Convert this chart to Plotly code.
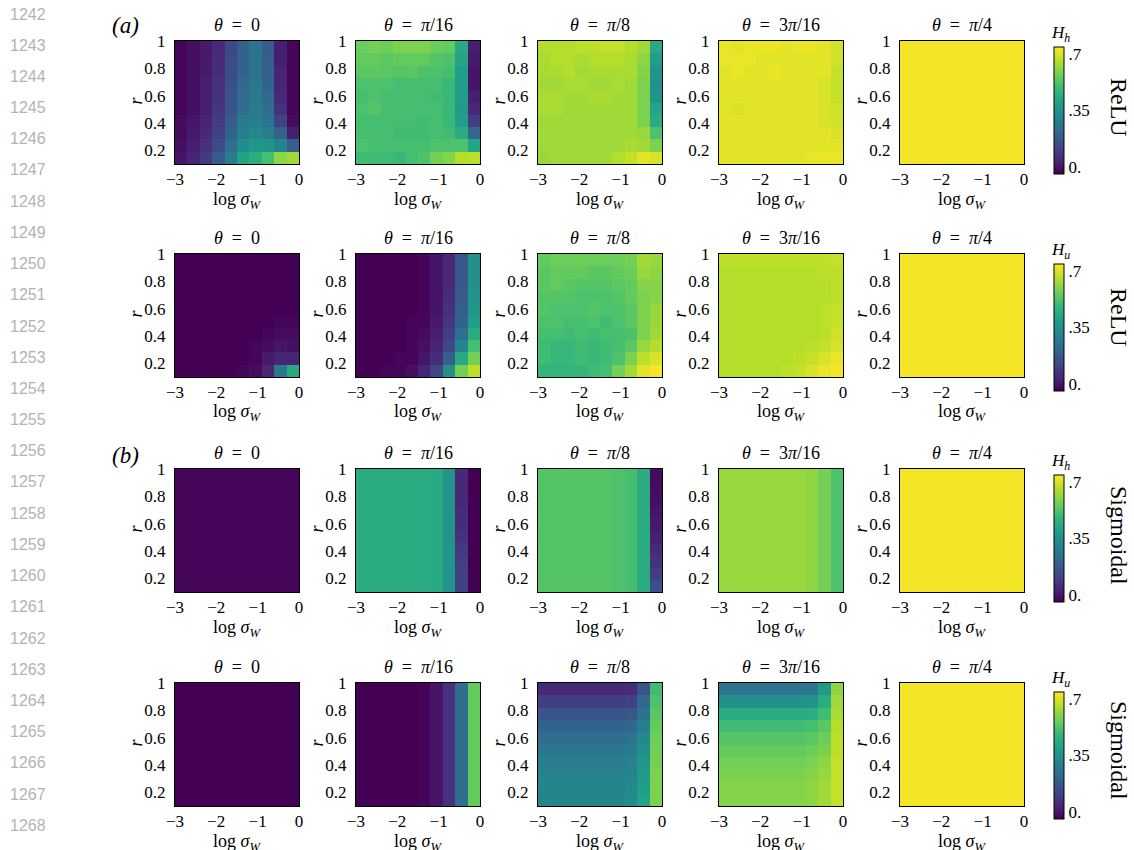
import plotly.graph_objects as go

W, H = 1134, 850
SERIF = "Liberation Serif"

# ---------------- data ----------------
log_sigma_w = [-2.85, -2.55, -2.25, -1.95, -1.65, -1.35, -1.05, -0.75, -0.45, -0.15]
# cell centres of r, listed top (r≈1) to bottom (r≈0.1); matrices below use the same row order
r_vals = [0.955, 0.865, 0.775, 0.685, 0.595, 0.505, 0.415, 0.325, 0.235, 0.145]

x_tickvals = [-3, -2, -1, 0]
x_ticktext = ["−3", "−2", "−1", "0"]
y_tickvals = [0.2, 0.4, 0.6, 0.8, 1.0]
y_ticktext = ["0.2", "0.4", "0.6", "0.8", "1"]
theta_titles = ["<i>θ</i>\u2002=\u20020", "<i>θ</i>\u2002=\u2002<i>π</i>/16", "<i>θ</i>\u2002=\u2002<i>π</i>/8",
                "<i>θ</i>\u2002=\u20023<i>π</i>/16", "<i>θ</i>\u2002=\u2002<i>π</i>/4"]
row_labels = ["ReLU", "ReLU", "Sigmoidal", "Sigmoidal"]
cbar_titles = ["<i>H<sub>h</sub></i>", "<i>H<sub>u</sub></i>", "<i>H<sub>h</sub></i>", "<i>H<sub>u</sub></i>"]
cbar_tickvals = [0.04, 0.35, 0.66]
cbar_ticktext = ["0.", ".35", ".7"]
panel_tags = ["<i>(a)</i>", "<i>(b)</i>"]
line_numbers = list(range(1242, 1269))

relu_hh_0 = [
    [0.01, 0.03, 0.05, 0.08, 0.15, 0.21, 0.27, 0.20, 0.06, 0.01],
    [0.01, 0.03, 0.05, 0.09, 0.16, 0.22, 0.27, 0.21, 0.06, 0.01],
    [0.01, 0.03, 0.05, 0.09, 0.16, 0.22, 0.27, 0.21, 0.07, 0.01],
    [0.01, 0.03, 0.06, 0.10, 0.17, 0.23, 0.28, 0.22, 0.07, 0.01],
    [0.01, 0.03, 0.06, 0.10, 0.18, 0.24, 0.28, 0.23, 0.08, 0.01],
    [0.01, 0.03, 0.06, 0.11, 0.18, 0.25, 0.29, 0.25, 0.10, 0.01],
    [0.02, 0.04, 0.07, 0.12, 0.20, 0.28, 0.30, 0.27, 0.14, 0.02],
    [0.02, 0.05, 0.08, 0.14, 0.22, 0.30, 0.33, 0.30, 0.21, 0.06],
    [0.03, 0.06, 0.10, 0.16, 0.25, 0.34, 0.37, 0.36, 0.32, 0.21],
    [0.04, 0.07, 0.12, 0.20, 0.29, 0.40, 0.44, 0.49, 0.58, 0.60],
]
relu_hh_pi16 = [
    [0.54, 0.55, 0.54, 0.56, 0.56, 0.56, 0.54, 0.53, 0.42, 0.06],
    [0.53, 0.53, 0.52, 0.53, 0.53, 0.53, 0.51, 0.50, 0.41, 0.05],
    [0.52, 0.52, 0.52, 0.51, 0.52, 0.50, 0.50, 0.49, 0.39, 0.04],
    [0.50, 0.50, 0.50, 0.49, 0.49, 0.49, 0.49, 0.47, 0.39, 0.04],
    [0.49, 0.50, 0.49, 0.49, 0.49, 0.49, 0.48, 0.47, 0.39, 0.06],
    [0.50, 0.51, 0.49, 0.49, 0.49, 0.49, 0.49, 0.47, 0.38, 0.08],
    [0.49, 0.49, 0.49, 0.49, 0.49, 0.48, 0.49, 0.47, 0.39, 0.13],
    [0.49, 0.49, 0.49, 0.48, 0.48, 0.48, 0.49, 0.48, 0.43, 0.23],
    [0.50, 0.49, 0.49, 0.49, 0.49, 0.49, 0.50, 0.50, 0.50, 0.41],
    [0.48, 0.48, 0.48, 0.47, 0.49, 0.50, 0.55, 0.57, 0.62, 0.63],
]
relu_hh_pi8 = [
    [0.62, 0.62, 0.62, 0.63, 0.63, 0.64, 0.64, 0.62, 0.60, 0.42],
    [0.61, 0.62, 0.62, 0.61, 0.62, 0.62, 0.62, 0.61, 0.58, 0.39],
    [0.61, 0.61, 0.62, 0.60, 0.61, 0.61, 0.61, 0.61, 0.57, 0.36],
    [0.60, 0.60, 0.61, 0.61, 0.60, 0.60, 0.61, 0.60, 0.56, 0.35],
    [0.61, 0.61, 0.60, 0.60, 0.61, 0.61, 0.60, 0.60, 0.56, 0.36],
    [0.61, 0.61, 0.60, 0.60, 0.60, 0.60, 0.60, 0.60, 0.56, 0.41],
    [0.60, 0.60, 0.60, 0.60, 0.60, 0.60, 0.60, 0.60, 0.56, 0.43],
    [0.60, 0.60, 0.60, 0.60, 0.60, 0.60, 0.60, 0.60, 0.59, 0.50],
    [0.60, 0.60, 0.60, 0.60, 0.60, 0.60, 0.60, 0.61, 0.60, 0.56],
    [0.59, 0.60, 0.60, 0.60, 0.60, 0.60, 0.62, 0.64, 0.67, 0.66],
]
relu_hh_3pi16 = [
    [0.68, 0.67, 0.68, 0.68, 0.68, 0.67, 0.68, 0.68, 0.67, 0.65],
    [0.68, 0.68, 0.68, 0.67, 0.67, 0.67, 0.67, 0.67, 0.67, 0.65],
    [0.67, 0.68, 0.67, 0.67, 0.68, 0.67, 0.67, 0.67, 0.67, 0.64],
    [0.67, 0.67, 0.67, 0.67, 0.67, 0.67, 0.67, 0.67, 0.66, 0.64],
    [0.67, 0.67, 0.67, 0.67, 0.67, 0.67, 0.67, 0.67, 0.66, 0.64],
    [0.67, 0.66, 0.67, 0.67, 0.67, 0.67, 0.67, 0.67, 0.66, 0.65],
    [0.67, 0.67, 0.67, 0.67, 0.67, 0.67, 0.67, 0.67, 0.66, 0.65],
    [0.67, 0.67, 0.67, 0.67, 0.67, 0.67, 0.67, 0.67, 0.67, 0.66],
    [0.67, 0.67, 0.67, 0.67, 0.67, 0.67, 0.67, 0.67, 0.67, 0.67],
    [0.67, 0.67, 0.67, 0.67, 0.67, 0.67, 0.67, 0.68, 0.68, 0.68],
]
relu_hh_pi4 = [
    [0.69, 0.69, 0.69, 0.69, 0.69, 0.69, 0.69, 0.69, 0.69, 0.69],
    [0.69, 0.69, 0.69, 0.69, 0.69, 0.69, 0.69, 0.69, 0.69, 0.69],
    [0.69, 0.69, 0.69, 0.69, 0.69, 0.69, 0.69, 0.69, 0.69, 0.69],
    [0.69, 0.69, 0.69, 0.69, 0.69, 0.69, 0.69, 0.69, 0.69, 0.69],
    [0.69, 0.69, 0.69, 0.69, 0.69, 0.69, 0.69, 0.69, 0.69, 0.69],
    [0.69, 0.69, 0.69, 0.69, 0.69, 0.69, 0.69, 0.69, 0.69, 0.69],
    [0.69, 0.69, 0.69, 0.69, 0.69, 0.69, 0.69, 0.69, 0.69, 0.69],
    [0.69, 0.69, 0.69, 0.69, 0.69, 0.69, 0.69, 0.69, 0.69, 0.69],
    [0.69, 0.69, 0.69, 0.69, 0.69, 0.69, 0.69, 0.69, 0.69, 0.69],
    [0.69, 0.69, 0.69, 0.69, 0.69, 0.69, 0.69, 0.69, 0.69, 0.69],
]

relu_hu_0 = [
    [0.00, 0.00, 0.00, 0.00, 0.00, 0.00, 0.00, 0.00, 0.00, 0.00],
    [0.00, 0.00, 0.00, 0.00, 0.00, 0.00, 0.00, 0.00, 0.00, 0.00],
    [0.00, 0.00, 0.00, 0.00, 0.00, 0.00, 0.00, 0.00, 0.00, 0.00],
    [0.00, 0.00, 0.00, 0.00, 0.00, 0.00, 0.00, 0.00, 0.00, 0.00],
    [0.00, 0.00, 0.00, 0.00, 0.00, 0.00, 0.00, 0.00, 0.00, 0.00],
    [0.00, 0.00, 0.00, 0.00, 0.00, 0.00, 0.00, 0.00, 0.01, 0.01],
    [0.00, 0.00, 0.00, 0.00, 0.00, 0.00, 0.00, 0.01, 0.02, 0.02],
    [0.00, 0.00, 0.00, 0.00, 0.00, 0.00, 0.01, 0.02, 0.04, 0.03],
    [0.00, 0.00, 0.00, 0.00, 0.00, 0.00, 0.01, 0.05, 0.07, 0.07],
    [0.00, 0.00, 0.00, 0.00, 0.00, 0.01, 0.02, 0.08, 0.28, 0.42],
]
relu_hu_pi16 = [
    [0.00, 0.00, 0.00, 0.00, 0.00, 0.01, 0.04, 0.08, 0.19, 0.35],
    [0.00, 0.00, 0.00, 0.00, 0.00, 0.01, 0.04, 0.08, 0.19, 0.35],
    [0.00, 0.00, 0.00, 0.00, 0.00, 0.01, 0.04, 0.08, 0.19, 0.35],
    [0.00, 0.00, 0.00, 0.00, 0.00, 0.01, 0.04, 0.09, 0.20, 0.36],
    [0.00, 0.00, 0.00, 0.00, 0.00, 0.01, 0.04, 0.10, 0.21, 0.37],
    [0.00, 0.00, 0.00, 0.00, 0.01, 0.01, 0.05, 0.11, 0.22, 0.39],
    [0.00, 0.00, 0.00, 0.00, 0.01, 0.02, 0.06, 0.13, 0.26, 0.43],
    [0.00, 0.00, 0.00, 0.00, 0.01, 0.03, 0.07, 0.15, 0.32, 0.49],
    [0.00, 0.00, 0.00, 0.01, 0.01, 0.04, 0.09, 0.21, 0.42, 0.55],
    [0.00, 0.00, 0.01, 0.01, 0.03, 0.07, 0.15, 0.35, 0.55, 0.63],
]
relu_hu_pi8 = [
    [0.53, 0.54, 0.54, 0.54, 0.54, 0.54, 0.54, 0.55, 0.60, 0.59],
    [0.52, 0.53, 0.53, 0.53, 0.52, 0.52, 0.53, 0.54, 0.59, 0.58],
    [0.52, 0.53, 0.52, 0.51, 0.51, 0.51, 0.52, 0.53, 0.57, 0.57],
    [0.51, 0.51, 0.51, 0.50, 0.50, 0.50, 0.51, 0.53, 0.56, 0.57],
    [0.51, 0.50, 0.50, 0.50, 0.51, 0.50, 0.50, 0.52, 0.56, 0.59],
    [0.50, 0.50, 0.49, 0.49, 0.50, 0.48, 0.50, 0.52, 0.56, 0.59],
    [0.49, 0.49, 0.48, 0.49, 0.48, 0.49, 0.49, 0.50, 0.56, 0.60],
    [0.48, 0.47, 0.47, 0.48, 0.47, 0.48, 0.49, 0.52, 0.59, 0.62],
    [0.48, 0.47, 0.47, 0.48, 0.47, 0.48, 0.50, 0.56, 0.63, 0.66],
    [0.46, 0.46, 0.46, 0.46, 0.48, 0.49, 0.55, 0.60, 0.67, 0.69],
]
relu_hu_3pi16 = [
    [0.63, 0.63, 0.63, 0.63, 0.63, 0.63, 0.63, 0.63, 0.63, 0.64],
    [0.62, 0.62, 0.62, 0.62, 0.62, 0.62, 0.62, 0.62, 0.63, 0.63],
    [0.62, 0.62, 0.62, 0.62, 0.62, 0.62, 0.62, 0.62, 0.62, 0.63],
    [0.62, 0.62, 0.62, 0.62, 0.62, 0.62, 0.62, 0.62, 0.62, 0.63],
    [0.62, 0.62, 0.62, 0.62, 0.62, 0.62, 0.62, 0.62, 0.63, 0.64],
    [0.62, 0.62, 0.62, 0.62, 0.62, 0.62, 0.62, 0.62, 0.63, 0.64],
    [0.62, 0.62, 0.62, 0.62, 0.62, 0.62, 0.62, 0.62, 0.63, 0.65],
    [0.62, 0.62, 0.62, 0.62, 0.62, 0.62, 0.62, 0.63, 0.64, 0.66],
    [0.62, 0.62, 0.62, 0.62, 0.62, 0.62, 0.63, 0.64, 0.66, 0.68],
    [0.62, 0.62, 0.62, 0.62, 0.62, 0.63, 0.64, 0.66, 0.68, 0.69],
]
relu_hu_pi4 = [
    [0.69, 0.69, 0.69, 0.69, 0.69, 0.69, 0.69, 0.69, 0.69, 0.69],
    [0.69, 0.69, 0.69, 0.69, 0.69, 0.69, 0.69, 0.69, 0.69, 0.69],
    [0.69, 0.69, 0.69, 0.69, 0.69, 0.69, 0.69, 0.69, 0.69, 0.69],
    [0.69, 0.69, 0.69, 0.69, 0.69, 0.69, 0.69, 0.69, 0.69, 0.69],
    [0.69, 0.69, 0.69, 0.69, 0.69, 0.69, 0.69, 0.69, 0.69, 0.69],
    [0.69, 0.69, 0.69, 0.69, 0.69, 0.69, 0.69, 0.69, 0.69, 0.69],
    [0.69, 0.69, 0.69, 0.69, 0.69, 0.69, 0.69, 0.69, 0.69, 0.69],
    [0.69, 0.69, 0.69, 0.69, 0.69, 0.69, 0.69, 0.69, 0.69, 0.69],
    [0.69, 0.69, 0.69, 0.69, 0.69, 0.69, 0.69, 0.69, 0.69, 0.69],
    [0.69, 0.69, 0.69, 0.69, 0.69, 0.69, 0.69, 0.69, 0.69, 0.69],
]

sig_hh_0 = [
    [0.01, 0.01, 0.01, 0.01, 0.01, 0.01, 0.01, 0.01, 0.01, 0.01],
    [0.01, 0.01, 0.01, 0.01, 0.01, 0.01, 0.01, 0.01, 0.01, 0.01],
    [0.01, 0.01, 0.01, 0.01, 0.01, 0.01, 0.01, 0.01, 0.01, 0.01],
    [0.01, 0.01, 0.01, 0.01, 0.01, 0.01, 0.01, 0.01, 0.01, 0.01],
    [0.01, 0.01, 0.01, 0.01, 0.01, 0.01, 0.01, 0.01, 0.01, 0.01],
    [0.01, 0.01, 0.01, 0.01, 0.01, 0.01, 0.01, 0.01, 0.01, 0.01],
    [0.01, 0.01, 0.01, 0.01, 0.01, 0.01, 0.01, 0.01, 0.01, 0.01],
    [0.01, 0.01, 0.01, 0.01, 0.01, 0.01, 0.01, 0.01, 0.01, 0.01],
    [0.01, 0.01, 0.01, 0.01, 0.01, 0.01, 0.01, 0.01, 0.01, 0.01],
    [0.01, 0.01, 0.01, 0.01, 0.01, 0.01, 0.01, 0.01, 0.01, 0.01],
]
sig_hh_pi16 = [
    [0.43, 0.43, 0.43, 0.43, 0.43, 0.43, 0.42, 0.36, 0.08, 0.00],
    [0.43, 0.43, 0.43, 0.43, 0.43, 0.43, 0.42, 0.36, 0.08, 0.00],
    [0.43, 0.43, 0.43, 0.43, 0.43, 0.43, 0.42, 0.36, 0.08, 0.00],
    [0.43, 0.43, 0.43, 0.43, 0.43, 0.43, 0.42, 0.36, 0.09, 0.00],
    [0.43, 0.43, 0.43, 0.43, 0.43, 0.43, 0.42, 0.36, 0.09, 0.00],
    [0.43, 0.43, 0.43, 0.43, 0.43, 0.43, 0.42, 0.36, 0.10, 0.00],
    [0.43, 0.43, 0.43, 0.43, 0.43, 0.43, 0.42, 0.36, 0.12, 0.00],
    [0.43, 0.43, 0.43, 0.43, 0.43, 0.43, 0.42, 0.36, 0.13, 0.00],
    [0.43, 0.43, 0.43, 0.43, 0.43, 0.43, 0.42, 0.36, 0.14, 0.00],
    [0.43, 0.43, 0.43, 0.43, 0.43, 0.43, 0.42, 0.36, 0.14, 0.00],
]
sig_hh_pi8 = [
    [0.51, 0.51, 0.51, 0.51, 0.51, 0.51, 0.50, 0.49, 0.43, 0.02],
    [0.51, 0.51, 0.51, 0.51, 0.51, 0.51, 0.50, 0.49, 0.43, 0.02],
    [0.51, 0.51, 0.51, 0.51, 0.51, 0.51, 0.50, 0.49, 0.43, 0.03],
    [0.51, 0.51, 0.51, 0.51, 0.51, 0.51, 0.50, 0.49, 0.43, 0.04],
    [0.51, 0.51, 0.51, 0.51, 0.51, 0.51, 0.50, 0.49, 0.43, 0.05],
    [0.51, 0.51, 0.51, 0.51, 0.51, 0.51, 0.50, 0.49, 0.43, 0.06],
    [0.51, 0.51, 0.51, 0.51, 0.51, 0.51, 0.50, 0.49, 0.43, 0.08],
    [0.51, 0.51, 0.51, 0.51, 0.51, 0.51, 0.50, 0.49, 0.43, 0.10],
    [0.51, 0.51, 0.51, 0.51, 0.51, 0.51, 0.50, 0.49, 0.43, 0.13],
    [0.51, 0.51, 0.51, 0.51, 0.51, 0.51, 0.50, 0.49, 0.43, 0.17],
]
sig_hh_3pi16 = [
    [0.59, 0.59, 0.59, 0.59, 0.59, 0.59, 0.59, 0.58, 0.55, 0.50],
    [0.59, 0.59, 0.59, 0.59, 0.59, 0.59, 0.59, 0.58, 0.55, 0.50],
    [0.59, 0.59, 0.59, 0.59, 0.59, 0.59, 0.59, 0.58, 0.55, 0.50],
    [0.59, 0.59, 0.59, 0.59, 0.59, 0.59, 0.59, 0.58, 0.55, 0.50],
    [0.59, 0.59, 0.59, 0.59, 0.59, 0.59, 0.59, 0.58, 0.55, 0.50],
    [0.59, 0.59, 0.59, 0.59, 0.59, 0.59, 0.59, 0.58, 0.55, 0.50],
    [0.59, 0.59, 0.59, 0.59, 0.59, 0.59, 0.59, 0.58, 0.55, 0.50],
    [0.59, 0.59, 0.59, 0.59, 0.59, 0.59, 0.59, 0.58, 0.55, 0.50],
    [0.59, 0.59, 0.59, 0.59, 0.59, 0.59, 0.59, 0.58, 0.55, 0.50],
    [0.59, 0.59, 0.59, 0.59, 0.59, 0.59, 0.59, 0.58, 0.55, 0.50],
]
sig_hh_pi4 = relu_hh_pi4

sig_hu_0 = [
    [0.00, 0.00, 0.00, 0.00, 0.00, 0.00, 0.00, 0.00, 0.00, 0.00],
    [0.00, 0.00, 0.00, 0.00, 0.00, 0.00, 0.00, 0.00, 0.00, 0.00],
    [0.00, 0.00, 0.00, 0.00, 0.00, 0.00, 0.00, 0.00, 0.00, 0.00],
    [0.00, 0.00, 0.00, 0.00, 0.00, 0.00, 0.00, 0.00, 0.00, 0.00],
    [0.00, 0.00, 0.00, 0.00, 0.00, 0.00, 0.00, 0.00, 0.00, 0.00],
    [0.00, 0.00, 0.00, 0.00, 0.00, 0.00, 0.00, 0.00, 0.00, 0.00],
    [0.00, 0.00, 0.00, 0.00, 0.00, 0.00, 0.00, 0.00, 0.00, 0.00],
    [0.00, 0.00, 0.00, 0.00, 0.00, 0.00, 0.00, 0.00, 0.00, 0.00],
    [0.00, 0.00, 0.00, 0.00, 0.00, 0.00, 0.00, 0.00, 0.00, 0.00],
    [0.00, 0.00, 0.00, 0.00, 0.00, 0.00, 0.00, 0.00, 0.00, 0.00],
]
sig_hu_pi16 = [
    [0.00, 0.00, 0.00, 0.00, 0.00, 0.01, 0.04, 0.10, 0.25, 0.53],
    [0.00, 0.00, 0.00, 0.00, 0.00, 0.01, 0.04, 0.10, 0.25, 0.53],
    [0.00, 0.00, 0.00, 0.00, 0.00, 0.01, 0.04, 0.10, 0.25, 0.53],
    [0.00, 0.00, 0.00, 0.00, 0.00, 0.01, 0.04, 0.10, 0.25, 0.53],
    [0.00, 0.00, 0.00, 0.00, 0.00, 0.01, 0.04, 0.10, 0.25, 0.53],
    [0.00, 0.00, 0.00, 0.00, 0.00, 0.01, 0.04, 0.10, 0.25, 0.53],
    [0.00, 0.00, 0.00, 0.00, 0.00, 0.01, 0.04, 0.10, 0.25, 0.53],
    [0.00, 0.00, 0.00, 0.00, 0.00, 0.01, 0.04, 0.10, 0.25, 0.53],
    [0.00, 0.00, 0.00, 0.00, 0.00, 0.01, 0.04, 0.10, 0.25, 0.53],
    [0.00, 0.00, 0.00, 0.00, 0.00, 0.01, 0.04, 0.10, 0.25, 0.53],
]
sig_hu_pi8 = [
    [0.08, 0.08, 0.08, 0.08, 0.08, 0.08, 0.08, 0.09, 0.18, 0.48],
    [0.13, 0.13, 0.13, 0.13, 0.13, 0.13, 0.13, 0.14, 0.23, 0.50],
    [0.18, 0.18, 0.18, 0.18, 0.18, 0.18, 0.18, 0.19, 0.27, 0.52],
    [0.22, 0.22, 0.22, 0.22, 0.22, 0.22, 0.22, 0.23, 0.30, 0.53],
    [0.25, 0.25, 0.25, 0.25, 0.25, 0.25, 0.25, 0.27, 0.33, 0.54],
    [0.28, 0.28, 0.28, 0.28, 0.28, 0.28, 0.28, 0.29, 0.35, 0.55],
    [0.30, 0.30, 0.30, 0.30, 0.30, 0.30, 0.30, 0.31, 0.37, 0.55],
    [0.31, 0.31, 0.31, 0.31, 0.31, 0.31, 0.31, 0.32, 0.38, 0.56],
    [0.32, 0.32, 0.32, 0.32, 0.32, 0.32, 0.32, 0.33, 0.39, 0.56],
    [0.32, 0.32, 0.32, 0.32, 0.32, 0.32, 0.32, 0.34, 0.40, 0.56],
]
sig_hu_3pi16 = [
    [0.27, 0.27, 0.27, 0.27, 0.27, 0.27, 0.27, 0.28, 0.38, 0.58],
    [0.35, 0.35, 0.35, 0.35, 0.35, 0.35, 0.35, 0.36, 0.43, 0.60],
    [0.43, 0.43, 0.43, 0.43, 0.43, 0.43, 0.43, 0.44, 0.48, 0.61],
    [0.48, 0.48, 0.48, 0.48, 0.48, 0.48, 0.48, 0.49, 0.52, 0.62],
    [0.51, 0.51, 0.51, 0.51, 0.51, 0.51, 0.51, 0.52, 0.54, 0.63],
    [0.53, 0.53, 0.53, 0.53, 0.53, 0.53, 0.53, 0.54, 0.56, 0.63],
    [0.55, 0.55, 0.55, 0.55, 0.55, 0.55, 0.55, 0.56, 0.58, 0.64],
    [0.56, 0.56, 0.56, 0.56, 0.56, 0.56, 0.56, 0.57, 0.59, 0.64],
    [0.57, 0.57, 0.57, 0.57, 0.57, 0.57, 0.57, 0.58, 0.60, 0.64],
    [0.57, 0.57, 0.57, 0.57, 0.57, 0.57, 0.57, 0.58, 0.60, 0.64],
]
sig_hu_pi4 = relu_hh_pi4

grid = [
    [relu_hh_0, relu_hh_pi16, relu_hh_pi8, relu_hh_3pi16, relu_hh_pi4],
    [relu_hu_0, relu_hu_pi16, relu_hu_pi8, relu_hu_3pi16, relu_hu_pi4],
    [sig_hh_0, sig_hh_pi16, sig_hh_pi8, sig_hh_3pi16, sig_hh_pi4],
    [sig_hu_0, sig_hu_pi16, sig_hu_pi8, sig_hu_3pi16, sig_hu_pi4],
]

# ---------------- layout geometry (pixels) ----------------
col_left = [175, 356, 538, 719, 900]
row_top = [41, 254, 469, 683]
PW, PH = 124, 123
cbar_left = 1054
cbar_top = [47, 264, 475, 692]
cbar_len = 127
row_label_y = [107, 317, 535, 750]
TICK = 17


def px(x):
    return x / W


def py(y):
    return 1 - y / H


fig = go.Figure()
layout = dict(
    width=W, height=H, margin=dict(l=0, r=0, t=0, b=0),
    paper_bgcolor="white", plot_bgcolor="white", showlegend=False,
    font=dict(family=SERIF, size=17, color="black"),
)
annotations = []

k = 0
for ri in range(4):
    for ci in range(5):
        k += 1
        sfx = "" if k == 1 else str(k)
        z = grid[ri][ci][::-1]
        fig.add_trace(go.Heatmap(
            x=log_sigma_w, y=r_vals[::-1], z=z,
            coloraxis="coloraxis" + ("" if ri == 0 else str(ri + 1)),
            xaxis="x" + sfx, yaxis="y" + sfx, hoverinfo="skip",
        ))
        l, t = col_left[ci], row_top[ri]
        layout["xaxis" + sfx] = dict(
            domain=[px(l), px(l + PW)], range=[-3, 0], anchor="y" + sfx,
            tickmode="array", tickvals=x_tickvals, ticktext=x_ticktext,
            ticks="",
            showline=True, mirror=True, linecolor="black", linewidth=1,
            showgrid=False, zeroline=False, automargin=False,
            tickfont=dict(family=SERIF, size=TICK, color="black"),
        )
        layout["yaxis" + sfx] = dict(
            domain=[py(t + PH), py(t)], range=[0.1, 1.0], anchor="x" + sfx,
            tickmode="array", tickvals=y_tickvals, ticktext=y_ticktext,
            ticks="outside", ticklen=5, tickcolor="rgba(0,0,0,0)",
            showline=True, mirror=True, linecolor="black", linewidth=1,
            showgrid=False, zeroline=False, automargin=False,
            tickfont=dict(family=SERIF, size=TICK, color="black"),
        )
        cx = l + PW / 2
        annotations.append(dict(text=theta_titles[ci], x=px(cx), y=py(t - 16),
                                xref="paper", yref="paper", showarrow=False,
                                font=dict(family=SERIF, size=18), xanchor="center", yanchor="middle"))
        annotations.append(dict(text="log <i>σ<sub>W</sub></i>", x=px(cx), y=py(t + PH + 36),
                                xref="paper", yref="paper", showarrow=False,
                                font=dict(family=SERIF, size=18), xanchor="center", yanchor="middle"))
        annotations.append(dict(text="<i>r</i>", x=px(l - 40), y=py(t + PH / 2 - 2),
                                xref="paper", yref="paper", showarrow=False, textangle=-90,
                                font=dict(family=SERIF, size=18), xanchor="center", yanchor="middle"))

    cname = "coloraxis" + ("" if ri == 0 else str(ri + 1))
    layout[cname] = dict(
        colorscale="Viridis", cmin=0, cmax=0.7,
        colorbar=dict(
            x=px(cbar_left), xanchor="left", xpad=0,
            y=py(cbar_top[ri] + cbar_len / 2), yanchor="middle", ypad=0,
            len=cbar_len / H, lenmode="fraction",
            thickness=10, thicknessmode="pixels",
            tickmode="array", tickvals=cbar_tickvals, ticktext=cbar_ticktext,
            ticks="", outlinewidth=1, outlinecolor="black",
            tickfont=dict(family=SERIF, size=17, color="black"),
        ),
    )
    annotations.append(dict(text=cbar_titles[ri], x=px(cbar_left + 6), y=py(cbar_top[ri] - 13),
                            xref="paper", yref="paper", showarrow=False,
                            font=dict(family=SERIF, size=17), xanchor="center", yanchor="middle"))
    annotations.append(dict(text=row_labels[ri], x=px(1119), y=py(row_label_y[ri]),
                            xref="paper", yref="paper", showarrow=False, textangle=90,
                            font=dict(family=SERIF, size=24), xanchor="center", yanchor="middle"))

for i, tag in enumerate(panel_tags):
    annotations.append(dict(text=tag, x=px(125), y=py([25, 455][i]),
                            xref="paper", yref="paper", showarrow=False,
                            font=dict(family=SERIF, size=23), xanchor="center", yanchor="middle"))

for i, n in enumerate(line_numbers):
    annotations.append(dict(text=str(n), x=px(28), y=py(14 + 31.2 * i),
                            xref="paper", yref="paper", showarrow=False,
                            font=dict(family="Liberation Sans", size=16, color="#b3b3b3"),
                            xanchor="center", yanchor="middle"))

layout["annotations"] = annotations
fig.update_layout(**layout)
fig.write_html(
    "out.html",
    config={"displayModeBar": False},
    post_script="document.body.style.margin='0';document.body.style.padding='0';"
                "document.body.style.overflow='hidden';"
                "document.documentElement.style.overflow='hidden';",
)
